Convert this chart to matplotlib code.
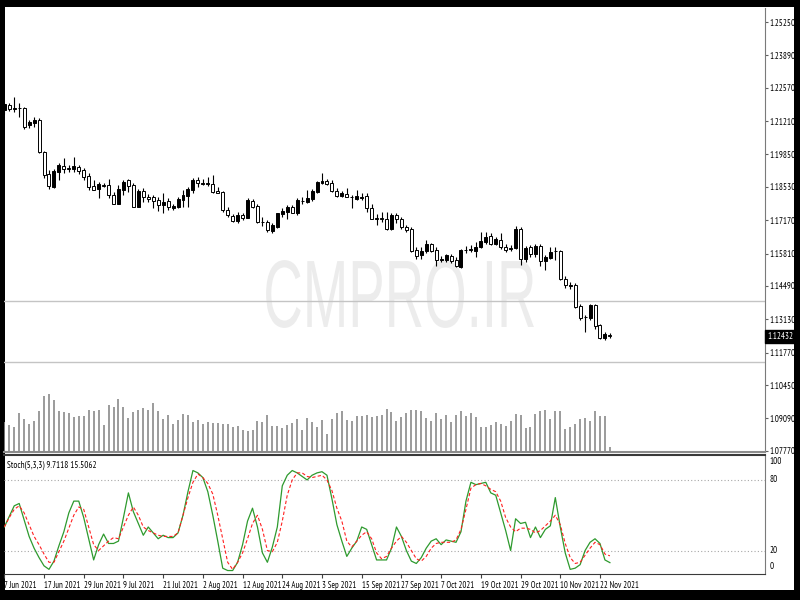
import numpy as np
import matplotlib
matplotlib.use('Agg')
import matplotlib.pyplot as plt
from matplotlib.patches import Rectangle
from matplotlib.patheffects import AbstractPathEffect
from matplotlib.transforms import Affine2D, blended_transform_factory

# EURUSD daily, 7 Jun 2021 .. 24 Nov 2021
opens = [
    1.2166, 1.2186, 1.2172, 1.2175, 1.2173, 1.2105, 1.2115, 1.2125, 1.1996, 1.1904,
    1.1853, 1.1914, 1.1937, 1.1928, 1.1924, 1.1932, 1.1921, 1.1897, 1.1856, 1.1846,
    1.1862, 1.1860, 1.1819, 1.1785, 1.1839, 1.1880, 1.1860, 1.1772, 1.1835, 1.1812,
    1.1810, 1.1799, 1.1778, 1.1795, 1.1765, 1.1769, 1.1799, 1.1815, 1.1840, 1.1883,
    1.1864, 1.1866, 1.1864, 1.1837, 1.1833, 1.1758, 1.1734, 1.1715, 1.1738, 1.1728,
    1.1795, 1.1774, 1.1710, 1.1710, 1.1674, 1.1690, 1.1742, 1.1751, 1.1772, 1.1745,
    1.1795, 1.1792, 1.1802, 1.1833, 1.1867, 1.1878, 1.1867, 1.1837, 1.1815, 1.1823,
    1.1812, 1.1802, 1.1808, 1.1815, 1.1765, 1.1725, 1.1726, 1.1724, 1.1683, 1.1740,
    1.1724, 1.1690, 1.1683, 1.1595, 1.1574, 1.1592, 1.1619, 1.1597, 1.1555, 1.1554,
    1.1570, 1.1554, 1.1527, 1.1594, 1.1597, 1.1592, 1.1606, 1.1629, 1.1652, 1.1619,
    1.1638, 1.1608, 1.1600, 1.1602, 1.1683, 1.1558, 1.1606, 1.1578, 1.1611, 1.1551,
    1.1565, 1.1590, 1.1592, 1.1479, 1.1450, 1.1452, 1.1366, 1.1322, 1.1320, 1.1370,
    1.1289, 1.1239, 1.1251]
highs = [
    1.2195, 1.2193, 1.2218, 1.2193, 1.2180, 1.2125, 1.2139, 1.2135, 1.2000, 1.1921,
    1.1924, 1.1951, 1.1969, 1.1942, 1.1973, 1.1942, 1.1928, 1.1908, 1.1880, 1.1874,
    1.1867, 1.1887, 1.1833, 1.1860, 1.1880, 1.1887, 1.1867, 1.1846, 1.1850, 1.1823,
    1.1819, 1.1810, 1.1829, 1.1806, 1.1782, 1.1812, 1.1840, 1.1853, 1.1891, 1.1894,
    1.1887, 1.1894, 1.1901, 1.1853, 1.1837, 1.1772, 1.1742, 1.1751, 1.1747, 1.1806,
    1.1802, 1.1785, 1.1731, 1.1717, 1.1704, 1.1747, 1.1765, 1.1778, 1.1778, 1.1806,
    1.1813, 1.1842, 1.1846, 1.1878, 1.1910, 1.1887, 1.1883, 1.1850, 1.1837, 1.1850,
    1.1819, 1.1842, 1.1826, 1.1826, 1.1785, 1.1744, 1.1751, 1.1751, 1.1747, 1.1747,
    1.1731, 1.1697, 1.1690, 1.1606, 1.1606, 1.1638, 1.1625, 1.1606, 1.1570, 1.1581,
    1.1578, 1.1568, 1.1598, 1.1611, 1.1615, 1.1629, 1.1670, 1.1670, 1.1666, 1.1649,
    1.1666, 1.1622, 1.1615, 1.1693, 1.1690, 1.1611, 1.1615, 1.1619, 1.1619, 1.1574,
    1.1606, 1.1606, 1.1597, 1.1489, 1.1466, 1.1462, 1.1377, 1.1330, 1.1377, 1.1377,
    1.1296, 1.1262, 1.1256]
lows = [
    1.2150, 1.2163, 1.2159, 1.2139, 1.2088, 1.2091, 1.2098, 1.1992, 1.1891, 1.1846,
    1.1850, 1.1880, 1.1908, 1.1914, 1.1914, 1.1905, 1.1880, 1.1840, 1.1840, 1.1806,
    1.1853, 1.1806, 1.1782, 1.1782, 1.1819, 1.1833, 1.1769, 1.1769, 1.1792, 1.1792,
    1.1765, 1.1755, 1.1747, 1.1758, 1.1758, 1.1765, 1.1772, 1.1772, 1.1829, 1.1853,
    1.1860, 1.1856, 1.1829, 1.1826, 1.1751, 1.1731, 1.1711, 1.1704, 1.1717, 1.1727,
    1.1765, 1.1706, 1.1693, 1.1670, 1.1666, 1.1687, 1.1731, 1.1724, 1.1745, 1.1738,
    1.1783, 1.1788, 1.1796, 1.1829, 1.1864, 1.1860, 1.1833, 1.1810, 1.1810, 1.1810,
    1.1768, 1.1799, 1.1799, 1.1751, 1.1720, 1.1697, 1.1710, 1.1679, 1.1679, 1.1704,
    1.1683, 1.1670, 1.1588, 1.1561, 1.1561, 1.1584, 1.1588, 1.1530, 1.1547, 1.1547,
    1.1543, 1.1527, 1.1524, 1.1584, 1.1588, 1.1568, 1.1602, 1.1622, 1.1615, 1.1615,
    1.1598, 1.1588, 1.1592, 1.1598, 1.1534, 1.1547, 1.1568, 1.1568, 1.1530, 1.1513,
    1.1557, 1.1554, 1.1475, 1.1442, 1.1438, 1.1361, 1.1312, 1.1262, 1.1312, 1.1275,
    1.1234, 1.1228, 1.1238]
closes = [
    1.2189, 1.2172, 1.2175, 1.2174, 1.2098, 1.2118, 1.2125, 1.1996, 1.1901, 1.1856,
    1.1918, 1.1942, 1.1924, 1.1927, 1.1937, 1.1918, 1.1894, 1.1853, 1.1842, 1.1864,
    1.1856, 1.1819, 1.1785, 1.1846, 1.1874, 1.1856, 1.1772, 1.1837, 1.1810, 1.1802,
    1.1796, 1.1778, 1.1792, 1.1772, 1.1774, 1.1802, 1.1819, 1.1846, 1.1883, 1.1870,
    1.1870, 1.1867, 1.1833, 1.1829, 1.1758, 1.1738, 1.1715, 1.1738, 1.1727, 1.1799,
    1.1772, 1.1710, 1.1709, 1.1677, 1.1697, 1.1745, 1.1755, 1.1772, 1.1747, 1.1799,
    1.1797, 1.1806, 1.1837, 1.1874, 1.1876, 1.1864, 1.1837, 1.1815, 1.1826, 1.1812,
    1.1810, 1.1815, 1.1812, 1.1765, 1.1724, 1.1724, 1.1724, 1.1683, 1.1738, 1.1720,
    1.1690, 1.1676, 1.1592, 1.1570, 1.1592, 1.1622, 1.1592, 1.1554, 1.1557, 1.1574,
    1.1550, 1.1529, 1.1595, 1.1597, 1.1599, 1.1608, 1.1633, 1.1649, 1.1622, 1.1642,
    1.1606, 1.1595, 1.1602, 1.1683, 1.1558, 1.1602, 1.1578, 1.1611, 1.1551, 1.1568,
    1.1588, 1.1592, 1.1479, 1.1452, 1.1452, 1.1364, 1.1320, 1.1321, 1.1370, 1.1285,
    1.1239, 1.1253, 1.12432]
volumes = [
    45000, 40000, 37500, 58500, 49000, 41500, 46000, 61000, 83500, 86500,
    77500, 61000, 59500, 58000, 52000, 53500, 53500, 62500, 61000, 62500,
    40000, 70000, 67500, 79000, 67500, 50500, 59500, 62500, 65500, 62500,
    73000, 61000, 49000, 55000, 41500, 47500, 56500, 55000, 44500, 47500,
    41500, 44500, 43500, 43000, 41500, 41500, 37000, 38500, 32500, 31000,
    32500, 46000, 44500, 55000, 38500, 38500, 35500, 40000, 43000, 49000,
    33000, 50500, 44500, 38000, 48000, 27000, 49500, 58000, 61500, 48000,
    46500, 54000, 54000, 55500, 52500, 54000, 55500, 64000, 60000, 46500,
    52500, 58500, 63000, 63000, 61500, 51000, 46500, 58500, 49500, 55500,
    45000, 55500, 61500, 54000, 58500, 52500, 37500, 37500, 40500, 45000,
    42000, 39000, 46500, 57000, 55500, 36000, 37500, 57000, 61500, 63000,
    49500, 61500, 61500, 34500, 37500, 42000, 49500, 51000, 46500, 61500,
    54000, 54000, 8000]
# Stoch(5,3,3) main and signal lines
stoch_main = [
    40, 49, 58, 60, 46, 32, 22, 14, 7, 4,
    11, 24, 36, 52, 62, 62, 48, 30, 12, 25,
    34, 26, 26, 28, 48, 69, 53, 43, 33, 40,
    35, 30, 33, 31, 31, 35, 50, 70, 88, 86,
    82, 70, 50, 28, 5, 3, 3, 10, 25, 45,
    56, 40, 18, 10, 23, 40, 75, 84, 88, 86,
    83, 80, 84, 86, 87, 84, 64, 42, 28, 15,
    22, 28, 40, 38, 25, 12, 12, 12, 22, 40,
    32, 20, 11, 9, 14, 22, 28, 30, 25, 29,
    28, 27, 36, 62, 78, 76, 77, 78, 69, 67,
    52, 37, 20, 47, 43, 44, 31, 40, 31, 38,
    41, 65, 40, 18, 4, 5, 8, 20, 27, 30,
    26, 12, 9.7118]
stoch_signal = [
    40, 48, 55, 58, 52, 42, 32, 25, 17, 10,
    10, 19, 28, 39, 50, 57, 55, 40, 25, 20,
    24, 28, 31, 30, 40, 50, 57, 50, 40, 37,
    35, 33, 32, 32, 32, 35, 50, 65, 78, 85,
    82, 77, 68, 50, 30, 10, 4, 10, 18, 30,
    43, 50, 38, 20, 19, 27, 45, 67, 80, 86,
    86, 83, 82, 83, 84, 80, 71, 56, 45, 28,
    23, 28, 33, 36, 30, 18, 13, 15, 22, 28,
    32, 27, 20, 13, 11, 15, 22, 26, 27, 27,
    27, 29, 38, 55, 73, 76, 77, 75, 72, 70,
    62, 48, 40, 36, 39, 39, 38, 35, 37, 41,
    45, 50, 42, 26, 14, 9, 10, 16, 22, 27,
    25, 17, 15.5062]

price_ticks = [1.25250, 1.23890, 1.22570, 1.21210, 1.19850, 1.18530, 1.17170,
               1.15810, 1.14490, 1.13130, 1.11770, 1.10450, 1.09090, 1.07770]
date_pos = [0, 8, 16, 24, 32, 40, 48, 56, 64, 72, 80, 88, 96, 104, 112, 120]
date_labels = ['7 Jun 2021', '17 Jun 2021', '29 Jun 2021', '9 Jul 2021', '21 Jul 2021',
               '2 Aug 2021', '12 Aug 2021', '24 Aug 2021', '3 Sep 2021', '15 Sep 2021',
               '27 Sep 2021', '7 Oct 2021', '19 Oct 2021', '29 Oct 2021', '10 Nov 2021',
               '22 Nov 2021']
hlines = [1.13878, 1.11379]
last_price = 1.12432

small_font = ['PT Sans Narrow', 'Roboto Condensed', 'DejaVu Sans']
fs = 6.5
fs_dates = 6.2


class Squeeze(AbstractPathEffect):
    # narrows text horizontally around a display x position
    def __init__(self, sx, cx):
        super().__init__()
        self.sx = sx
        self.cx = cx

    def draw_path(self, renderer, gc, tpath, affine, rgbFace=None):
        t = affine + Affine2D().translate(-self.cx, 0).scale(self.sx, 1).translate(self.cx, 0)
        renderer.draw_path(gc, tpath, t, rgbFace)


W, H = 800, 600
fig = plt.figure(figsize=(8, 6), dpi=100, facecolor='black')
fig.patches.append(Rectangle((5 / W, 1 - 590 / H), 789 / W, 583 / H, transform=fig.transFigure,
                             facecolor='white', edgecolor='none', zorder=-10))

x0 = 4.3
ax = fig.add_axes([x0 / W, 1 - 452 / H, (765 - x0) / W, 444 / H])
axs = fig.add_axes([x0 / W, 1 - 574.3 / H, (765 - x0) / W, 119.3 / H], sharex=ax)
for a in (ax, axs):
    a.set_facecolor('none')

n = len(closes)
idx = np.arange(n)
o = np.array(opens)
c = np.array(closes)

# watermark
ax.text(0.5, 1 - 327 / H, 'CMPRO.IR', transform=fig.transFigure, fontsize=69,
        family='Liberation Sans', color='#ececec', ha='center', va='baseline',
        path_effects=[Squeeze(0.57, 400)], zorder=0.5)

for lvl in hlines:
    ax.axhline(lvl, color='#c4c4c4', lw=1.0, zorder=1)

# volume in the bottom of the price window
axv = ax.twinx()
axv.vlines(idx, 0, volumes, color='#8a8a8a', lw=1.2)
axv.set_ylim(0, 444 * 1500)
axv.axis('off')

# candles
ax.vlines(idx, lows, highs, color='black', lw=0.8, zorder=3)
up = c >= o
body = np.abs(c - o)
body = np.where(body < 0.00004, 0.00004, body)
ax.bar(idx[up], body[up], bottom=o[up], width=0.6, color='black', edgecolor='black',
       lw=0.7, zorder=4)
ax.bar(idx[~up], body[~up], bottom=c[~up], width=0.6, color='white', edgecolor='black',
       lw=0.7, zorder=4)

ax.set_xlim(0, (765 - x0) / 4.964)
ax.set_ylim(1.2525 - 430 * 0.0004076, 1.2525 + 14 * 0.0004076)
ax.yaxis.tick_right()
ax.set_yticks(price_ticks)
ax.set_yticklabels(['%.5f' % v for v in price_ticks], fontsize=fs, family=small_font)
ax.tick_params(axis='y', direction='out', length=2, pad=1.5, colors='#606060', labelcolor='black')
ax.tick_params(axis='x', bottom=False, labelbottom=False)
for s in ('top', 'left'):
    ax.spines[s].set_visible(False)
ax.spines['right'].set_color('#7a7a7a')
ax.spines['bottom'].set_color('#8c8c8c')
ax.spines['bottom'].set_linewidth(1.5)

tr = blended_transform_factory(ax.transAxes, ax.transData)
ax.text(1.003, last_price, '%.5f' % last_price, transform=tr, fontsize=fs, family=small_font,
        color='white', ha='left', va='center',
        bbox=dict(boxstyle='square,pad=0.22', fc='black', ec='black'), zorder=6)

# stochastic window
axs.axhline(80, color='#a8a8a8', lw=0.8, ls=(0, (1, 2)))
axs.axhline(20, color='#a8a8a8', lw=0.8, ls=(0, (1, 2)))
axs.plot(idx, stoch_main, color='#2e9a2e', lw=0.9)
axs.plot(idx, stoch_signal, color='#ff2020', lw=0.8, ls=(0, (3, 2)))
axs.set_ylim(-0.2, 101.2)
axs.set_yticks([])
axs.spines['left'].set_visible(False)
axs.spines['top'].set_color('#3a3a3a')
axs.spines['top'].set_linewidth(1.5)
axs.spines['right'].set_color('#7a7a7a')
axs.spines['bottom'].set_color('#3a3a3a')
trs = blended_transform_factory(axs.transAxes, axs.transData)
for lab, yv in [('100', 95.3), ('80', 80), ('20', 20), ('0', 6.2)]:
    axs.text(1.006, yv, lab, transform=trs, fontsize=fs, family=small_font, ha='left', va='center')
axs.text(0.004, 92, 'Stoch(5,3,3) %.4f %.4f' % (stoch_main[-1], stoch_signal[-1]),
         transform=trs, fontsize=fs, family=small_font, ha='left', va='center')

axs.set_xticks(date_pos)
axs.set_xticklabels(date_labels, ha='left', fontsize=fs_dates, family=small_font)
axs.tick_params(axis='x', direction='out', length=3, pad=1.5, colors='#404040', labelcolor='black')

fig.savefig('out.png', dpi=100, facecolor='black')
